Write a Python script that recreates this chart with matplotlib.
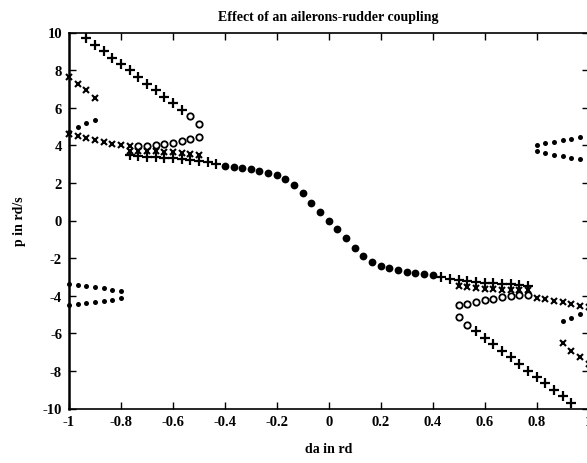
import numpy as np
import matplotlib
matplotlib.use("Agg")
import matplotlib.pyplot as plt

plt.rcParams["font.family"] = ["Liberation Serif", "DejaVu Serif"]
plt.rcParams["font.weight"] = "bold"

# aileron deflection grid (rd)
da = np.linspace(-1.0, 1.0, 61)

# steady roll-rate roots p (rd/s); each branch = (first grid index, values)
plus_upper = (2, [9.69, 9.35, 9.00, 8.66, 8.32, 7.99, 7.63, 7.28, 6.94, 6.59, 6.23, 5.88])
circ_upper_tip = (14, [5.54, 5.13])
x_upper_high = (0, [7.62, 7.26, 6.96, 6.53])
dot_upper_left = (0, [4.72, 4.99, 5.17, 5.36])
x_upper_row = (0, [4.62, 4.51, 4.37, 4.30, 4.20, 4.07, 3.99, 3.98])
circ_upper_row = (8, [3.96, 3.96, 4.00, 4.05, 4.12, 4.21, 4.32, 4.46])
x_mid_left = (7, [3.72, 3.71, 3.70, 3.68, 3.66, 3.63, 3.59, 3.54, 3.47])
plus_low_left = (7, [3.47, 3.43, 3.40, 3.37, 3.34, 3.30, 3.26, 3.22, 3.17, 3.11, 3.03])
main_curve = (18, [2.92, 2.86, 2.80, 2.72, 2.64, 2.55, 2.40, 2.20, 1.89, 1.45, 0.92, 0.44,
                   0.00, -0.44, -0.92, -1.45, -1.89, -2.20, -2.40, -2.55, -2.64, -2.72,
                   -2.80, -2.86, -2.92])
dot_ll_top = (0, [-3.38, -3.41, -3.47, -3.52, -3.59, -3.68, -3.77])
dot_ll_bot = (0, [-4.49, -4.43, -4.39, -4.35, -4.30, -4.23, -4.10])

plus_lower = (47, [-5.88, -6.23, -6.59, -6.94, -7.28, -7.63, -7.99, -8.32, -8.66, -9.00, -9.35, -9.69])
circ_lower_tip = (45, [-5.13, -5.54])
x_lower_low = (57, [-6.53, -6.96, -7.26, -7.62])
dot_lower_right = (57, [-5.36, -5.17, -4.99, -4.72])
x_lower_row = (54, [-4.10, -4.20, -4.28, -4.33, -4.42, -4.56, -4.62])
circ_lower_row = (45, [-4.50, -4.42, -4.33, -4.24, -4.15, -4.06, -3.99, -3.96, -3.94])
x_mid_right = (45, [-3.47, -3.54, -3.59, -3.63, -3.66, -3.68, -3.70, -3.71, -3.72])
plus_high_right = (43, [-3.03, -3.11, -3.17, -3.22, -3.26, -3.30, -3.34, -3.37, -3.40, -3.43, -3.47])
dot_ur_top = (54, [4.03, 4.12, 4.19, 4.26, 4.34, 4.43, 4.49])
dot_ur_bot = (54, [3.68, 3.57, 3.48, 3.41, 3.34, 3.27, 3.22])

x_ticks = [-1, -0.8, -0.6, -0.4, -0.2, 0, 0.2, 0.4, 0.6, 0.8, 1]
x_tick_labels = ["-1", "-0.8", "-0.6", "-0.4", "-0.2", "0", "0.2", "0.4", "0.6", "0.8", "1"]
y_ticks = [-10, -8, -6, -4, -2, 0, 2, 4, 6, 8, 10]
y_tick_labels = ["-10", "-8", "-6", "-4", "-2", "0", "2", "4", "6", "8", "10"]

styles = {
    "plus": dict(marker="+", ms=6.5, mew=1.6, color="k"),
    "x": dict(marker="x", ms=4.2, mew=1.5, color="k"),
    "circ": dict(marker="o", ms=4.6, mew=1.3, mfc="white", mec="k"),
    "dot": dict(marker="o", ms=3.6, mew=0, color="k"),
    "big": dict(marker="o", ms=5.6, mew=0, color="k"),
}

series = [
    (plus_upper, "plus"), (circ_upper_tip, "circ"), (x_upper_high, "x"),
    (dot_upper_left, "dot"), (x_upper_row, "x"), (circ_upper_row, "circ"),
    (x_mid_left, "x"), (plus_low_left, "plus"), (main_curve, "big"),
    (dot_ll_top, "dot"), (dot_ll_bot, "dot"),
    (plus_lower, "plus"), (circ_lower_tip, "circ"), (x_lower_low, "x"),
    (dot_lower_right, "dot"), (x_lower_row, "x"), (circ_lower_row, "circ"),
    (x_mid_right, "x"), (plus_high_right, "plus"),
    (dot_ur_top, "dot"), (dot_ur_bot, "dot"),
]

fig = plt.figure(figsize=(5.87, 4.64), dpi=100)
ax = fig.add_axes([69 / 587, 54.5 / 464, 519.5 / 587, 376 / 464])

for (k0, vals), kind in series:
    xs = da[k0:k0 + len(vals)]
    ax.plot(xs, vals, linestyle="none", clip_on=False, **styles[kind])

ax.set_xlim(-1, 1)
ax.set_ylim(-10, 10)
ax.set_xticks(x_ticks)
ax.set_xticklabels(x_tick_labels)
ax.set_yticks(y_ticks)
ax.set_yticklabels(y_tick_labels)
ax.tick_params(direction="in", top=True, right=True, length=5, width=1.0,
               labelsize=10.5, pad=5)
for lab in ax.get_xticklabels() + ax.get_yticklabels():
    lab.set_fontweight("bold")
for side in ax.spines.values():
    side.set_linewidth(1.2)
ax.spines["left"].set_linewidth(1.8)

ax.set_title("Effect of an ailerons-rudder coupling", fontsize=10, fontweight="bold", pad=9)
ax.set_xlabel("da in rd", fontsize=10, fontweight="bold", labelpad=10)
ax.set_ylabel("p in rd/s", fontsize=10, fontweight="bold", labelpad=12)

fig.savefig("out.png", dpi=100)
